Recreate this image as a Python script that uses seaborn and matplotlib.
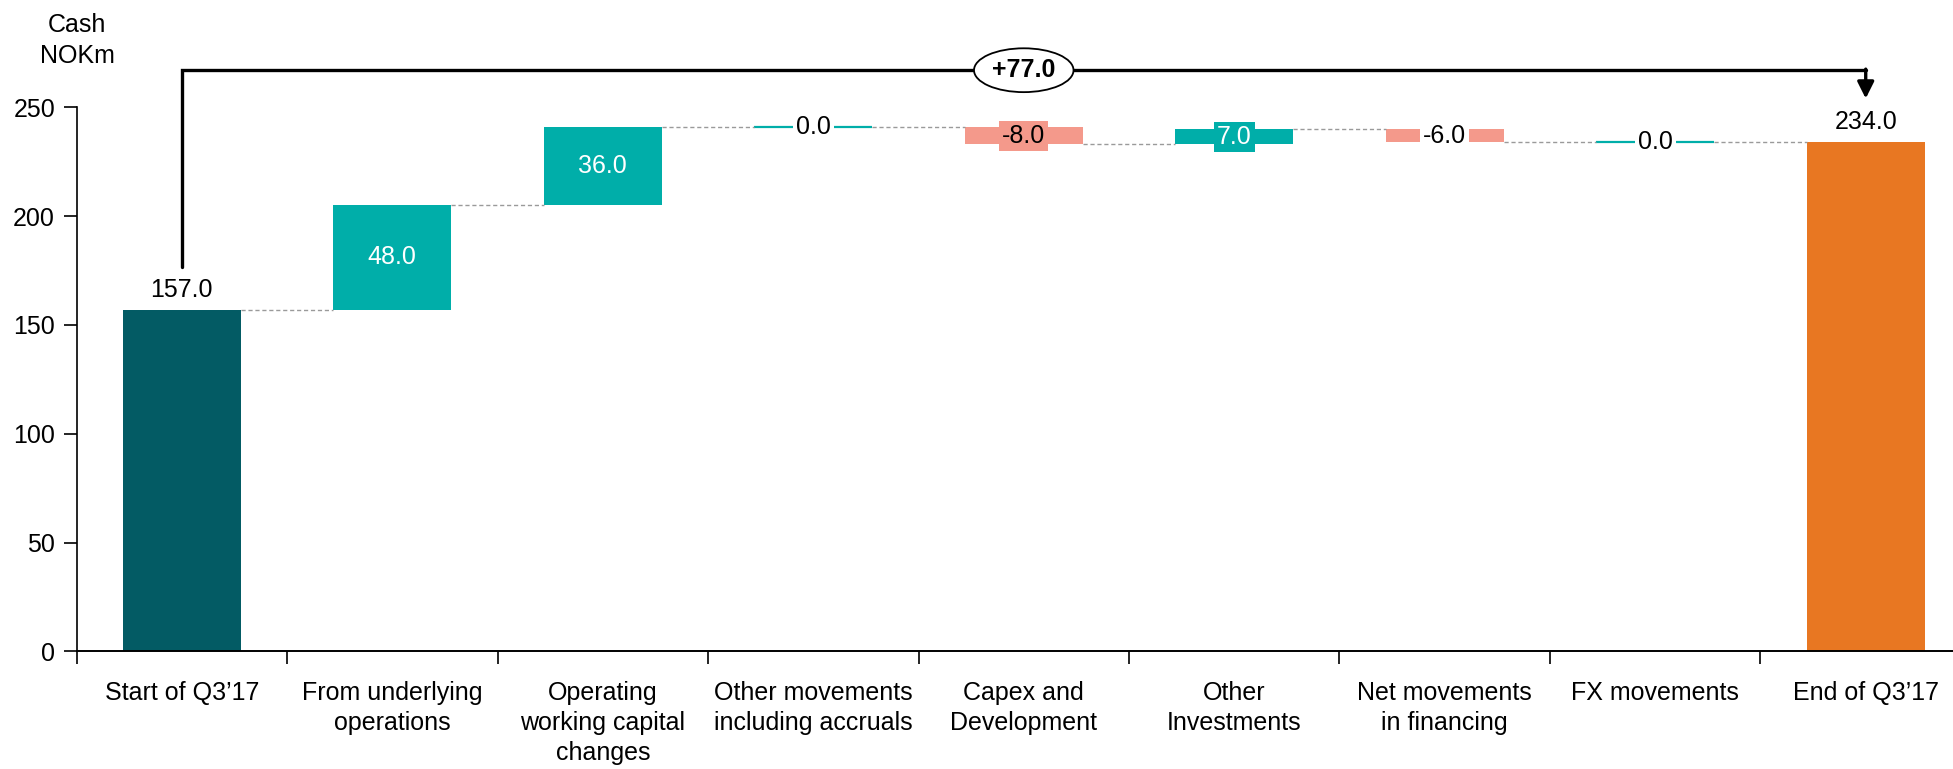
import matplotlib
matplotlib.use("Agg")
import matplotlib.pyplot as plt
import pandas as pd
import seaborn as sns

# Cash bridge for the quarter (NOKm)
categories = [
    "Start of Q3’17",
    "From underlying\noperations",
    "Operating\nworking capital\nchanges",
    "Other movements\nincluding accruals",
    "Capex and\nDevelopment",
    "Other\nInvestments",
    "Net movements\nin financing",
    "FX movements",
    "End of Q3’17",
]
changes = [157.0, 48.0, 36.0, 0.0, -8.0, 7.0, -6.0, 0.0, 234.0]
kinds = ["total", "delta", "delta", "delta", "delta", "delta", "delta", "delta", "total"]
bridge_label = "+77.0"
y_ticks = [0, 50, 100, 150, 200, 250]

# colours
C_START = "#035B64"
C_UP = "#00AEA9"
C_DOWN = "#F4998B"
C_END = "#E87722"

sns.set_theme(style="white")
plt.rcParams["font.family"] = ["Liberation Sans", "DejaVu Sans"]
plt.rcParams.update({"text.color": "black", "xtick.color": "black",
                     "ytick.color": "black", "axes.labelcolor": "black"})
FS = 18

# running totals -> bar bottoms / heights
bottoms, heights, levels, colors = [], [], [], []
level = 0.0
for i, (v, k) in enumerate(zip(changes, kinds)):
    if k == "total":
        bottoms.append(0.0)
        heights.append(v)
        level = v
        colors.append(C_START if i == 0 else C_END)
    else:
        new = level + v
        bottoms.append(min(level, new))
        heights.append(abs(v))
        level = new
        colors.append(C_UP if v >= 0 else C_DOWN)
    levels.append(level)

fig = plt.figure(figsize=(19.53, 7.69), dpi=100)
ax = fig.add_axes([0.0392, 0.1529, 0.9700, 0.8209])

df = pd.DataFrame({"cat": categories, "h": heights})
sns.barplot(data=df, x="cat", y="h", hue="cat", order=categories, hue_order=categories,
            palette=colors, legend=False, width=0.56, saturation=1, ax=ax)

bar_w = 0.56
for p, b, h, c in zip(ax.patches, bottoms, heights, colors):
    p.set_y(b)
    p.set_height(h)
    if h == 0:
        p.set_edgecolor(c)
        p.set_linewidth(1.6)
    else:
        p.set_linewidth(0)

# dashed connectors between consecutive bars
for i in range(len(categories) - 1):
    ax.plot([i + bar_w / 2, i + 1 - bar_w / 2], [levels[i], levels[i]],
            color="#9A9A9A", lw=1.0, ls=(0, (3, 2)), zorder=1)

# value labels
small_label_box = {3: ("white", "black"), 4: (C_DOWN, "black"), 5: (C_UP, "white"),
                   6: ("white", "black"), 7: ("white", "black")}
for i, (v, k) in enumerate(zip(changes, kinds)):
    top = bottoms[i] + heights[i]
    if k == "total":
        ax.annotate(f"{v:.1f}", xy=(i, top), xytext=(0, 14.5), textcoords="offset points",
                    ha="center", va="center", fontsize=FS, color="black")
    elif heights[i] >= 20:
        ax.text(i, bottoms[i] + heights[i] / 2, f"{v:.1f}", ha="center", va="center",
                fontsize=FS, color="white")
    else:
        fc, tc = small_label_box[i]
        ax.text(i, bottoms[i] + heights[i] / 2, f"{v:.1f}", ha="center", va="center",
                fontsize=FS, color=tc, zorder=5,
                bbox=dict(boxstyle="square,pad=0.12", fc=fc, ec="none"))

# overall change bracket
y_br = 267.0
ax.plot([0, 0, len(categories) - 1, len(categories) - 1], [176.5, y_br, y_br, y_br],
        color="black", lw=2.4, solid_joinstyle="miter", zorder=4)
ax.annotate("", xy=(len(categories) - 1, 254.0), xytext=(len(categories) - 1, y_br + 0.5),
            arrowprops=dict(arrowstyle="-|>,head_length=0.5,head_width=0.25", lw=2.4,
                            color="black", mutation_scale=20, shrinkA=0, shrinkB=0),
            zorder=4)
ax.text((len(categories) - 1) / 2, y_br, bridge_label, ha="center", va="center",
        fontsize=FS, fontweight="bold", zorder=6,
        bbox=dict(boxstyle="ellipse,pad=0.14", fc="white", ec="black", lw=1.3))

# axes styling
ax.set_xlim(-0.5, len(categories) - 0.5)
ax.set_ylim(0, 290)
ax.set_xlabel("")
ax.set_ylabel("")
for s in ["top", "right"]:
    ax.spines[s].set_visible(False)
ax.spines["left"].set_bounds(0, 250)
ax.spines["left"].set_color("black")
ax.spines["bottom"].set_color("black")
ax.spines["left"].set_linewidth(1.2)
ax.spines["bottom"].set_linewidth(1.4)

ax.set_yticks(y_ticks)
ax.set_yticklabels([str(t) for t in y_ticks], fontsize=FS)
ax.tick_params(axis="y", which="major", left=True, length=9.5, width=1.2, pad=6, color="black")

ax.set_xticks(range(len(categories)))
ax.set_xticklabels(categories, fontsize=FS, linespacing=1.32)
ax.set_xticks([i - 0.5 for i in range(len(categories) + 1)], minor=True)
ax.tick_params(axis="x", which="major", length=0, pad=21)
ax.tick_params(axis="x", which="minor", bottom=True, length=9, width=1.2,
               direction="out", color="black")

fig.text(77 / 1953, 1 - 25 / 769, "Cash", ha="center", va="center", fontsize=FS)
fig.text(77 / 1953, 1 - 56 / 769, "NOKm", ha="center", va="center", fontsize=FS)

fig.savefig("out.png", dpi=100)
